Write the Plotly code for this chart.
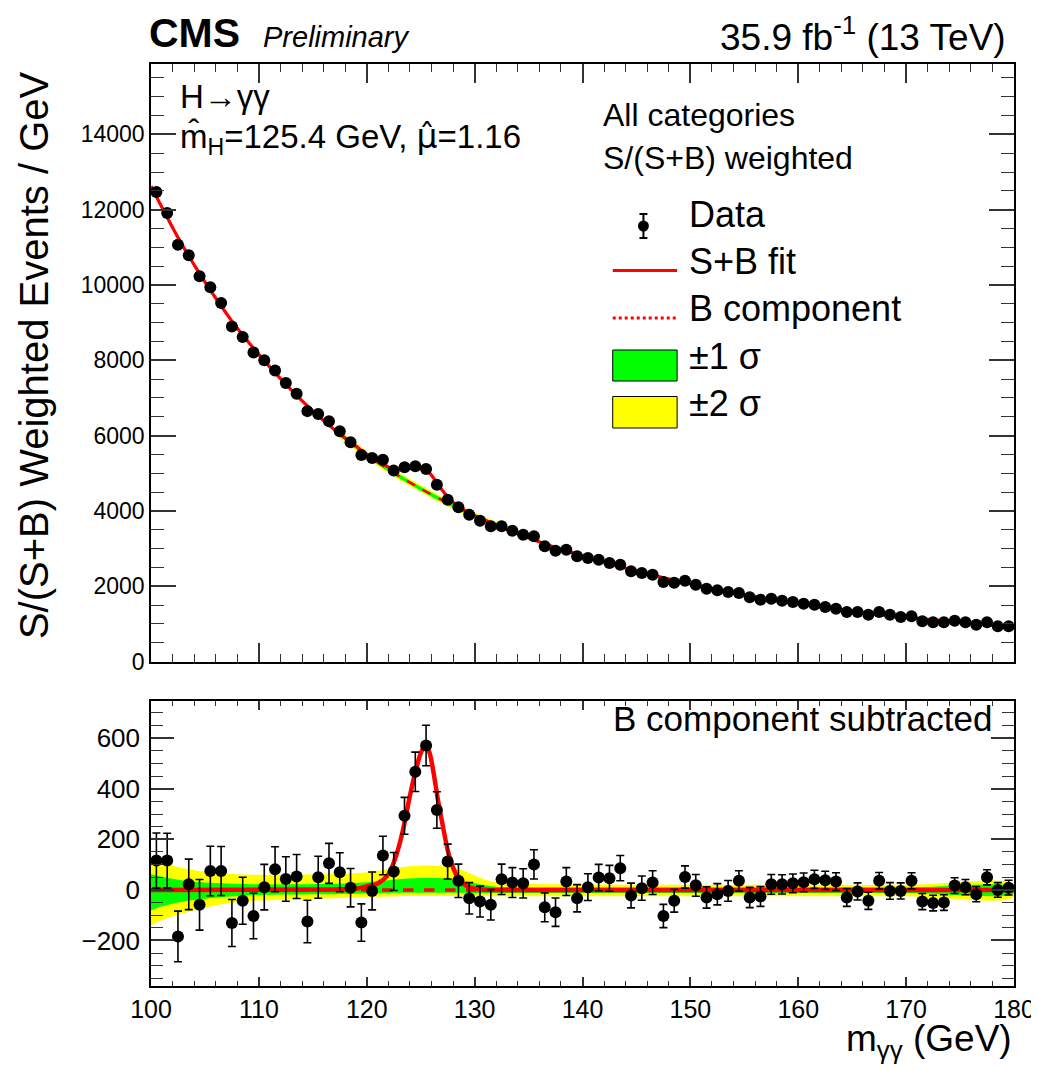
import plotly.graph_objects as go

# ---------------- data ----------------
mass = [100.5, 101.5, 102.5, 103.5, 104.5, 105.5, 106.5, 107.5, 108.5, 109.5,
        110.5, 111.5, 112.5, 113.5, 114.5, 115.5, 116.5, 117.5, 118.5, 119.5,
        120.5, 121.5, 122.5, 123.5, 124.5, 125.5, 126.5, 127.5, 128.5, 129.5,
        130.5, 131.5, 132.5, 133.5, 134.5, 135.5, 136.5, 137.5, 138.5, 139.5,
        140.5, 141.5, 142.5, 143.5, 144.5, 145.5, 146.5, 147.5, 148.5, 149.5,
        150.5, 151.5, 152.5, 153.5, 154.5, 155.5, 156.5, 157.5, 158.5, 159.5,
        160.5, 161.5, 162.5, 163.5, 164.5, 165.5, 166.5, 167.5, 168.5, 169.5,
        170.5, 171.5, 172.5, 173.5, 174.5, 175.5, 176.5, 177.5, 178.5, 179.5]

events = [12470, 11910, 11070, 10790, 10230, 9940, 9520, 8900, 8620, 8210,
          8000, 7730, 7400, 7110, 6650, 6575, 6380, 6115, 5825, 5485,
          5405, 5360, 5070, 5158, 5185, 5113, 4696, 4298, 4095, 3899,
          3740, 3591, 3591, 3474, 3368, 3325, 3060, 2943, 2970, 2794,
          2749, 2704, 2616, 2571, 2396, 2351, 2306, 2110, 2090, 2146,
          2040, 1934, 1891, 1846, 1820, 1706, 1642, 1668, 1615, 1580,
          1535, 1509, 1448, 1403, 1315, 1315, 1243, 1315, 1243, 1182,
          1200, 1067, 1041, 1041, 1084, 1041, 978, 1041, 935, 935]

residual = [116, 116, -184, 22, -59, 75, 75, -131, -43, -103,
            11, 82, 43, 53, -125, 50, 105, 70, 9, -129,
            -4, 136, 73, 293, 467, 571, 316, 112, 36, -33,
            -46, -59, 42, 29, 26, 101, -69, -88, 33, -33,
            11, 49, 46, 86, -22, 7, 29, -103, -43, 51,
            18, -30, -17, -4, 36, -30, -26, 22, 22, 26,
            30, 42, 38, 33, -30, -6, -43, 36, -4, -4,
            36, -46, -52, -50, 17, 11, -17, 50, 0, 9]

errors = [109, 108, 100, 100, 100, 98, 97, 93, 93, 90,
          90, 89, 88, 87, 84, 83, 79, 77, 76, 74,
          75, 76, 75, 73, 78, 80, 72, 69, 66, 62,
          61, 60, 60, 59, 58, 58, 57, 56, 55, 54,
          53, 52, 51, 50, 49, 48, 47, 46, 45, 44,
          43, 42, 42, 41, 40, 40, 39, 39, 38, 37,
          37, 36, 36, 35, 35, 34, 34, 33, 33, 32,
          32, 32, 31, 31, 31, 30, 30, 30, 29, 29]

# background component (upper panel)
bkg_x = [100, 102.5, 105, 107.5, 110, 112.5, 115, 117.5, 120, 122.5, 125, 127.5,
         130, 132.5, 135, 137.5, 140, 145, 150, 155, 160, 165, 170, 175, 180]
bkg_y = [12620, 11260, 10080, 9040, 8150, 7360, 6650, 6040, 5490, 5010, 4590, 4210,
         3870, 3560, 3280, 3030, 2810, 2400, 2060, 1770, 1530, 1330, 1170, 1040, 915]

# S+B fit (upper panel)
sb_x = [100, 102.5, 105, 107.5, 110, 112.5, 115, 117.5, 119, 120, 121, 122, 122.5,
        123, 123.5, 124, 124.5, 125, 125.4, 125.8, 126.2, 126.6, 127, 127.5, 128,
        128.5, 129, 130, 131, 132.5, 135, 137.5, 140, 145, 150, 155, 160, 165, 170,
        175, 180]
sb_y = [12620, 11260, 10080, 9040, 8150, 7360, 6652, 6043, 5720, 5504, 5323, 5168, 5118,
        5101, 5107, 5130, 5139, 5130, 5099, 5013, 4870, 4702, 4551, 4368, 4230,
        4119, 4028, 3875, 3747, 3560, 3280, 3030, 2810, 2400, 2060, 1770, 1530, 1330, 1170,
        1040, 915]

# signal (B component subtracted) curve, lower panel
sig_x = [100, 117, 119, 120, 121, 122, 122.5, 123, 123.5, 124, 124.5, 125, 125.4,
         125.8, 126.2, 126.6, 127, 127.5, 128, 128.5, 129, 129.5, 130, 131, 133, 180]
sig_y = [0, 2, 5, 14, 25, 62, 108, 175, 265, 372, 465, 540, 570,
         545, 462, 355, 265, 158, 88, 45, 22, 10, 5, 1, 0, 0]

bsub_x = [100, 180]
bsub_y = [0, 0]

# uncertainty bands (lower panel)
band_x = [100, 101, 102, 103, 104, 106, 108, 110, 113, 116, 118, 120, 121, 122, 123, 124,
          125, 126, 127, 128, 129, 130, 131, 132, 134, 137, 140, 150, 160, 170, 180]
two_up = [125, 110, 97, 86, 78, 68, 62, 60, 60, 62, 64, 70, 76, 83, 90, 94,
          96, 96, 94, 88, 76, 58, 40, 30, 24, 22, 21, 20, 20, 20, 22]
two_lo = [-140, -120, -105, -92, -80, -62, -48, -42, -38, -34, -31, -28, -27, -26, -25, -24,
          -24, -24, -24, -24, -24, -25, -25, -25, -25, -25, -25, -25, -25, -25, -27]
one_up = [62, 52, 44, 37, 32, 27, 24, 22, 22, 23, 25, 30, 34, 38, 42, 45,
          47, 47, 46, 42, 35, 26, 18, 13, 11, 10, 10, 10, 10, 10, 11]
one_lo = [-80, -66, -55, -46, -40, -31, -24, -20, -18, -17, -16, -14, -13, -12, -11, -11,
          -11, -11, -11, -11, -11, -12, -12, -12, -12, -12, -12, -12, -12, -12, -13]

x_ticks = [100, 110, 120, 130, 140, 150, 160, 170, 180]

# ---------------- figure ----------------
W, H = 1039, 1070
ML, MR, MT, MB = 143, 25, 56, 92
PW, PH = W - ML - MR, H - MT - MB


def PX(px):
    return (px - ML) / PW


def PY(py):
    return (H - MB - py) / PH


RED = "#ff0000"
GREEN = "#00ff00"
YELLOW = "#ffff00"
FONT = "Liberation Sans, Arial, Helvetica, sans-serif"

fig = go.Figure()

# lower panel bands
fig.add_trace(go.Scatter(x=band_x + band_x[::-1], y=two_up + two_lo[::-1],
                         fill="toself", fillcolor=YELLOW, line=dict(width=0, shape="spline"),
                         mode="lines", xaxis="x2", yaxis="y2", showlegend=False, hoverinfo="skip"))
fig.add_trace(go.Scatter(x=band_x + band_x[::-1], y=one_up + one_lo[::-1],
                         fill="toself", fillcolor=GREEN, line=dict(width=0, shape="spline"),
                         mode="lines", xaxis="x2", yaxis="y2", showlegend=False, hoverinfo="skip"))
fig.add_trace(go.Scatter(x=bsub_x, y=bsub_y, mode="lines",
                         line=dict(color=RED, width=3.5, dash="dash"),
                         xaxis="x2", yaxis="y2", showlegend=False, hoverinfo="skip"))
fig.add_trace(go.Scatter(x=sig_x, y=sig_y, mode="lines",
                         line=dict(color=RED, width=4.5, shape="spline", smoothing=0.8),
                         xaxis="x2", yaxis="y2", showlegend=False, hoverinfo="skip"))
fig.add_trace(go.Scatter(x=mass, y=residual, mode="markers",
                         marker=dict(color="black", size=12),
                         error_y=dict(type="data", array=errors, color="black", thickness=1.6, width=4),
                         xaxis="x2", yaxis="y2", showlegend=False))

# upper panel
fig.add_trace(go.Scatter(x=bkg_x[7:14], y=bkg_y[7:14], mode="lines",
                         line=dict(color=YELLOW, width=6, shape="spline"),
                         xaxis="x", yaxis="y", showlegend=False, hoverinfo="skip"))
fig.add_trace(go.Scatter(x=bkg_x[7:14], y=bkg_y[7:14], mode="lines",
                         line=dict(color=GREEN, width=3.5, shape="spline"),
                         xaxis="x", yaxis="y", showlegend=False, hoverinfo="skip"))
fig.add_trace(go.Scatter(x=bkg_x, y=bkg_y, mode="lines",
                         line=dict(color=RED, width=2.5, dash="dash", shape="spline", smoothing=0.6),
                         xaxis="x", yaxis="y", showlegend=False, hoverinfo="skip"))
fig.add_trace(go.Scatter(x=sb_x, y=sb_y, mode="lines",
                         line=dict(color=RED, width=3.2, shape="spline", smoothing=0.6),
                         xaxis="x", yaxis="y", showlegend=False, hoverinfo="skip"))
fig.add_trace(go.Scatter(x=mass, y=events, mode="markers",
                         marker=dict(color="black", size=12),
                         error_y=dict(type="data", array=errors, color="black", thickness=1.6, width=3),
                         xaxis="x", yaxis="y", showlegend=False))

axis_common = dict(ticks="inside", mirror="allticks", showline=True, linecolor="black",
                   linewidth=1.5, tickcolor="#333333", tickwidth=1.5, showgrid=False,
                   zeroline=False)

fig.update_layout(
    width=W, height=H,
    margin=dict(l=ML, r=MR, t=MT, b=MB),
    paper_bgcolor="white", plot_bgcolor="white",
    font=dict(family=FONT, color="black"),
    xaxis=dict(domain=[0, 1], range=[100, 180], anchor="y", tickvals=x_ticks,
               ticklen=19, showticklabels=False,
               minor=dict(dtick=2, tick0=100, ticklen=8, ticks="inside", tickcolor="#333333", tickwidth=1.2),
               **axis_common),
    yaxis=dict(domain=[0.35195, 1], range=[0, 15870], anchor="x", dtick=2000, tick0=0,
               tickformat="d",
               ticklen=25, tickfont=dict(size=23),
               minor=dict(dtick=500, tick0=0, ticklen=13, ticks="inside", tickcolor="#333333", tickwidth=1.2),
               ticklabelstandoff=0,
               **axis_common),
    xaxis2=dict(domain=[0, 1], range=[100, 180], anchor="y2", tickvals=x_ticks,
                ticklen=9, tickfont=dict(size=25), ticklabelstandoff=0,
                minor=dict(dtick=2, tick0=100, ticklen=5, ticks="inside", tickcolor="#333333", tickwidth=1.2),
                **axis_common),
    yaxis2=dict(domain=[0, 0.30879], range=[-380, 746], anchor="x2", dtick=200, tick0=0,
                ticklen=23, tickfont=dict(size=26),
                minor=dict(dtick=50, tick0=0, ticklen=12, ticks="inside", tickcolor="#333333", tickwidth=1.2),
                ticklabelstandoff=4,
                **axis_common),
)

ann = []
DY = 8  # compensate annotation box centre vs. glyph centre


def text(px, py, s, size, anchor="left", **kw):
    ann.append(dict(x=PX(px), y=PY(py - DY), xref="paper", yref="paper", text=s, showarrow=False,
                    xanchor=anchor, yanchor="middle", font=dict(size=size, family=FONT, color="black"), **kw))


text(139, 33, "<b>CMS</b>", 41)
text(254, 37, "<i>Preliminary</i>", 29)
text(1008, 35, "35.9 fb<sup>-1</sup> (13 TeV)", 37, anchor="right")
text(170, 96, "H→γγ", 33)
text(170, 138, "m\u0302<sub>H</sub>=125.4 GeV, <span style=\"font-family:DejaVu Sans\">\u03bc\u0302</span>=1.16", 33)
text(597, 115, "All categories", 32)
text(597, 158, "S/(S+B) weighted", 32)
text(684, 214, "Data", 36)
text(684, 262, "S+B fit", 36)
text(684, 308, "B component", 36)
text(684, 356, "±1 σ", 36)
text(684, 403, "±2 σ", 36)
text(994, 718, "B component subtracted", 35, anchor="right")
text(1014, 1041, "m<sub>γγ</sub> (GeV)", 37, anchor="right")
ann.append(dict(x=PX(25), y=PY(347), xref="paper", yref="paper",
                text="S/(S+B) Weighted Events / GeV", showarrow=False, textangle=-90,
                xanchor="center", yanchor="middle", font=dict(size=40, family=FONT, color="black")))

shapes = []
# legend: data symbol
shapes.append(dict(type="line", xref="paper", yref="paper", x0=PX(640), x1=PX(640), y0=PY(206), y1=PY(230),
                   line=dict(color="black", width=2)))
for cy in (206, 230):
    shapes.append(dict(type="line", xref="paper", yref="paper", x0=PX(636), x1=PX(644), y0=PY(cy), y1=PY(cy),
                       line=dict(color="black", width=2)))
shapes.append(dict(type="circle", xref="paper", yref="paper", x0=PX(634.5), x1=PX(645.5),
                   y0=PY(223.5), y1=PY(212.5), fillcolor="black", line=dict(color="black", width=0)))
# legend: lines
shapes.append(dict(type="line", xref="paper", yref="paper", x0=PX(609), x1=PX(674), y0=PY(262.5), y1=PY(262.5),
                   line=dict(color=RED, width=3)))
shapes.append(dict(type="line", xref="paper", yref="paper", x0=PX(609), x1=PX(674), y0=PY(310), y1=PY(310),
                   line=dict(color=RED, width=3, dash="dot")))
# legend: boxes
shapes.append(dict(type="rect", xref="paper", yref="paper", x0=PX(609), x1=PX(674), y0=PY(373), y1=PY(342),
                   fillcolor=GREEN, line=dict(color="black", width=1)))
shapes.append(dict(type="rect", xref="paper", yref="paper", x0=PX(609), x1=PX(674), y0=PY(420), y1=PY(388.5),
                   fillcolor=YELLOW, line=dict(color="black", width=1)))

fig.update_layout(annotations=ann, shapes=shapes)

fig.write_html("out.html")
